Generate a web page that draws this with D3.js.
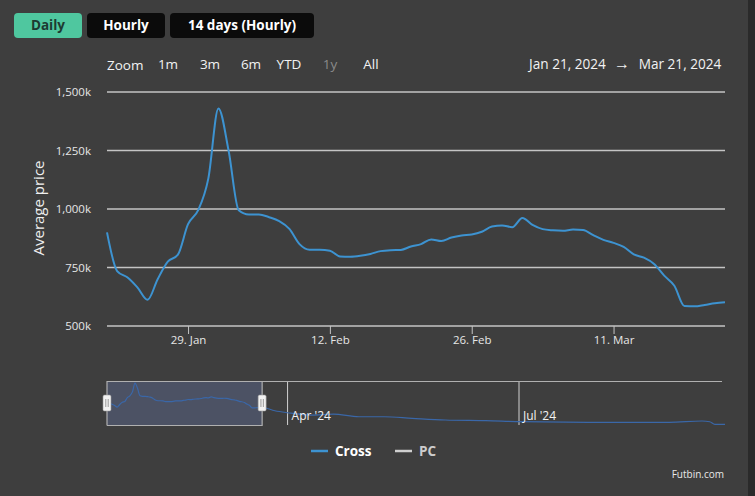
<!DOCTYPE html>
<html>
<head>
<meta charset="utf-8">
<script src="https://cdn.jsdelivr.net/npm/d3@7.9.0/dist/d3.min.js"></script>
<style>
  html, body { margin: 0; padding: 0; background: #3e3e3e; overflow: hidden; }
  svg { display: block; font-family: "Open Sans", sans-serif; }
</style>
</head>
<body>
<div id="chart"></div>
<script>
// daily average price (k) for Cross, Jan 21 -> Mar 22 2024
const startDay = "2024-01-21";
const crossPrices = [
  900, 735, 708, 665, 612, 700, 775, 805, 935, 995,
  1130, 1430, 1250, 995, 977, 977, 965, 948, 915, 850,
  826, 826, 822, 797, 796, 800, 808, 820, 824, 825,
  840, 850, 870, 863, 878, 887, 891, 903, 925, 930,
  922, 962, 932, 914, 909, 907, 912, 910, 888, 868,
  855, 838, 806, 792, 765, 715, 672, 585, 584, 590,
  597, 601
];
// later prices, only visible in the navigator
const laterDates = ["2024-03-27", "2024-04-01", "2024-04-10", "2024-04-19", "2024-04-29", "2024-05-09",
  "2024-05-20", "2024-06-02", "2024-06-18", "2024-07-02", "2024-07-28", "2024-08-29",
  "2024-09-11", "2024-09-14", "2024-09-16", "2024-09-20"];
const laterPrices = [486, 418, 340, 374, 282, 282, 228, 170, 146, 112, 92, 92, 136, 112, 24, 24];

const yTicks = [500, 750, 1000, 1250, 1500];
const xTickDates = ["2024-01-29", "2024-02-12", "2024-02-26", "2024-03-11"];
const navTickDates = ["2024-04-01", "2024-07-01"];
const rangeButtons = ["Daily", "Hourly", "14 days (Hourly)"];
const zoomButtons = ["1m", "3m", "6m", "YTD", "1y", "All"];
const legendItems = ["Cross", "PC"];
const rangeLabels = ["Jan 21, 2024", "\u2192", "Mar 21, 2024"];

const parse = d3.utcParse("%Y-%m-%d");
const t0 = parse(startDay);
const mainData = crossPrices.map((v, i) => ({ date: d3.utcDay.offset(t0, i), value: v }));
const navData = mainData.concat(laterDates.map((d, i) => ({ date: parse(d), value: laterPrices[i] })));

const width = 755, height = 496;
const margin = { top: 92, right: 30, bottom: 170, left: 107 };

const svg = d3.select("#chart").append("svg")
  .attr("width", width)
  .attr("height", height);

svg.append("rect").attr("width", width).attr("height", height).attr("fill", "#3e3e3e");
svg.append("rect").attr("x", 748).attr("width", 7).attr("height", height).attr("fill", "#2a2a2a");

// top buttons
const btnX = [14, 87, 170], btnW = [68, 78, 144];
rangeButtons.forEach((b, i) => {
  svg.append("rect")
    .attr("x", btnX[i]).attr("y", 13)
    .attr("width", btnW[i]).attr("height", 25)
    .attr("rx", 4)
    .attr("fill", i === 0 ? "#4fc79f" : "#0b0b0b");
  svg.append("text")
    .attr("x", btnX[i] + btnW[i] / 2).attr("y", 30)
    .attr("text-anchor", "middle")
    .attr("fill", i === 0 ? "#1d3a31" : "#ffffff")
    .style("font-size", "13.5px").style("font-weight", "bold")
    .text(b);
});

// zoom row
svg.append("text").attr("x", 107).attr("y", 70).attr("fill", "#f2f2f2")
  .style("font-size", "13.5px").text("Zoom");
const zoomX = [168, 210, 251, 289, 330, 371];
zoomButtons.forEach((z, i) => {
  svg.append("text").attr("x", zoomX[i]).attr("y", 69)
    .attr("text-anchor", "middle")
    .attr("fill", z === "1y" ? "#8a8a8a" : "#f2f2f2")
    .style("font-size", "13.5px").text(z);
});

const rangeX = [567.5, 622, 680];
rangeLabels.forEach((t, i) => {
  svg.append("text").attr("x", rangeX[i]).attr("y", 69)
    .attr("text-anchor", "middle")
    .attr("fill", "#f2f2f2")
    .style("font-size", i === 1 ? "16px" : "13.6px")
    .text(t);
});

// main chart
const x = d3.scaleUtc()
  .domain([t0, d3.utcDay.offset(t0, crossPrices.length - 1)])
  .range([margin.left, 725]);

const y = d3.scaleLinear()
  .domain([500, 1500])
  .range([326, 92]);

svg.append("g")
  .selectAll("line")
  .data(yTicks)
  .join("line")
  .attr("x1", margin.left).attr("x2", 725)
  .attr("y1", d => y(d)).attr("y2", d => y(d))
  .attr("stroke", "#c4c4c4").attr("stroke-width", 1.5);

svg.append("g")
  .selectAll("text")
  .data(yTicks)
  .join("text")
  .attr("x", 91).attr("y", d => y(d) + 4)
  .attr("text-anchor", "end")
  .attr("fill", "#e6e6e6")
  .style("font-size", "11.5px")
  .text(d => d3.format(",")(d) + "k");

svg.append("text")
  .attr("transform", "translate(44,208) rotate(-90)")
  .attr("text-anchor", "middle")
  .attr("fill", "#f0f0f0")
  .style("font-size", "15px")
  .text("Average price");

const xAxis = svg.append("g")
  .attr("transform", "translate(0,326)")
  .call(d3.axisBottom(x)
    .tickValues(xTickDates.map(parse))
    .tickSize(8)
    .tickFormat(d3.utcFormat("%-d. %b")));
xAxis.select(".domain").remove();
xAxis.selectAll("line").attr("stroke", "#c4c4c4");
xAxis.selectAll("text")
  .attr("fill", "#e6e6e6")
  .attr("dy", "0.6em")
  .style("font-size", "11.5px")
  .style("font-family", "'Open Sans', sans-serif");

const line = d3.line()
  .x(d => x(d.date))
  .y(d => y(d.value))
  .curve(d3.curveMonotoneX);

svg.append("path")
  .datum(mainData)
  .attr("d", line)
  .attr("fill", "none")
  .attr("stroke", "#3d93d1")
  .attr("stroke-width", 2);

// navigator
const nx = d3.scaleUtc()
  .domain([t0, parse("2024-09-20")])
  .range([107, 725]);
const ny = d3.scaleLinear()
  .domain([0, 1500])
  .range([425, 381]);

const selEnd = nx(d3.utcDay.offset(t0, crossPrices.length - 1));

svg.append("rect")
  .attr("x", 107).attr("y", 381)
  .attr("width", selEnd - 107).attr("height", 44)
  .attr("fill", "rgba(110,130,190,0.3)");

svg.append("g")
  .selectAll("line")
  .data(navTickDates)
  .join("line")
  .attr("x1", d => nx(parse(d))).attr("x2", d => nx(parse(d)))
  .attr("y1", 381).attr("y2", 425)
  .attr("stroke", "#d0d0d0").attr("stroke-width", 1);

const navLine = d3.line()
  .x(d => nx(d.date))
  .y(d => ny(d.value))
  .curve(d3.curveMonotoneX);

svg.append("path")
  .datum(navData)
  .attr("d", navLine)
  .attr("fill", "none")
  .attr("stroke", "#3a67a8")
  .attr("stroke-width", 1.2);

svg.append("g")
  .selectAll("text")
  .data(navTickDates)
  .join("text")
  .attr("x", d => nx(parse(d)) + 4).attr("y", 420)
  .attr("fill", "#f2f2f2")
  .style("font-size", "12px")
  .text(d => d3.utcFormat("%b '%y")(parse(d)));

// navigator outline
svg.append("path")
  .attr("d", `M107,425.5 L107,381.5 L722,381.5 M107,425.5 L${selEnd},425.5 L${selEnd},381.5`)
  .attr("fill", "none")
  .attr("stroke", "#b0b0b0")
  .attr("stroke-width", 1.2);

[107, selEnd].forEach(hx => {
  const h = svg.append("g").attr("transform", `translate(${hx},403)`);
  h.append("rect").attr("x", -4).attr("y", -8).attr("width", 8).attr("height", 16)
    .attr("rx", 1.5).attr("fill", "#f2f2f2").attr("stroke", "#999").attr("stroke-width", 0.6);
  h.append("line").attr("x1", -1.2).attr("x2", -1.2).attr("y1", -4).attr("y2", 4).attr("stroke", "#999");
  h.append("line").attr("x1", 1.2).attr("x2", 1.2).attr("y1", -4).attr("y2", 4).attr("stroke", "#999");
});

// legend
const legendX = [311, 395];
const legendColors = ["#3d93d1", "#cfcfcf"];
legendItems.forEach((name, i) => {
  svg.append("line")
    .attr("x1", legendX[i]).attr("x2", legendX[i] + 17)
    .attr("y1", 451).attr("y2", 451)
    .attr("stroke", legendColors[i]).attr("stroke-width", 2.5);
  svg.append("text")
    .attr("x", legendX[i] + 24).attr("y", 455.5)
    .attr("fill", i === 0 ? "#ffffff" : "#cccccc")
    .style("font-size", "13.5px").style("font-weight", "bold")
    .text(name);
});

svg.append("text")
  .attr("x", 724).attr("y", 478)
  .attr("text-anchor", "end")
  .attr("fill", "#e8e8e8")
  .style("font-size", "10px")
  .text("Futbin.com");
</script>
</body>
</html>
